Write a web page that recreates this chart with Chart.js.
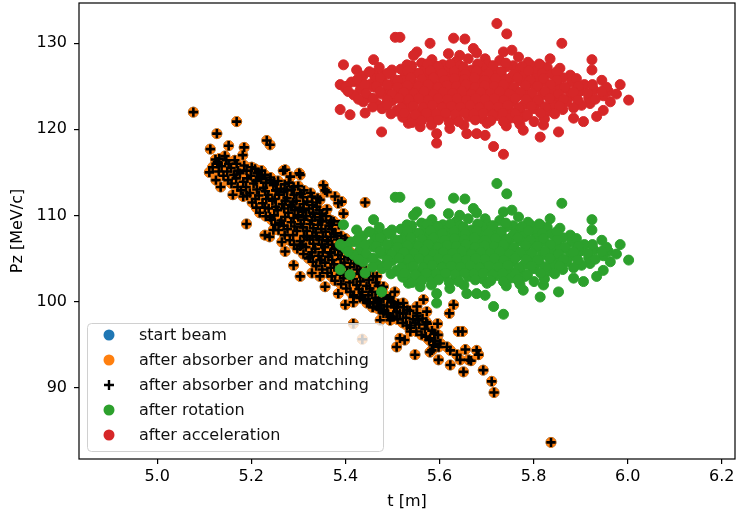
<!DOCTYPE html>
<html>
<head>
<meta charset="utf-8">
<script src="https://cdn.jsdelivr.net/npm/chart.js@4.4.1/dist/chart.umd.min.js"></script>
<style>
  html, body { margin: 0; padding: 0; background: #fff; }
  #wrap { width: 736px; height: 515px; }
</style>
</head>
<body>
<div id="wrap"><canvas id="beamChart" width="736" height="515"></canvas></div>
<script>
// phase-space samples: [t (m), Pz (MeV/c)]
const absorberPts = [
  [5.077,122.0],[5.169,120.9],[5.711,90.7],[5.716,89.4],[5.837,83.6],
  [5.127,119.5],[5.113,117.7],[5.152,118.1],[5.185,117.9],[5.233,118.7],[5.240,118.2],[5.182,117.0],
  [5.132,116.6],[5.147,116.4],[5.128,116.2],[5.111,115.0],[5.125,114.1],[5.135,113.3],[5.161,112.4],
  [5.183,112.2],[5.190,109.0],[5.239,107.5],[5.272,115.3],[5.302,114.9],[5.353,113.5],[5.357,112.9],
  [5.341,112.0],[5.312,112.9],[5.201,115.6],[5.222,115.2],[5.268,115.2],[5.304,114.7],[5.378,112.2],
  [5.392,111.6],[5.396,110.2],[5.375,109.3],[5.442,111.5],[5.361,112.7],[5.385,111.4],[5.400,107.3],
  [5.304,102.9],[5.290,104.2],[5.272,105.8],[5.265,106.9],[5.329,103.3],[5.346,102.9],[5.357,101.7],
  [5.385,100.9],[5.400,99.6],[5.417,100.5],[5.460,99.8],[5.481,99.0],[5.495,98.2],
  [5.229,107.7],[5.240,109.8],[5.247,108.3],[5.261,109.1],
  [5.286,111.0],[5.300,109.8],[5.311,110.6],[5.332,110.2],[5.339,111.0],[5.346,109.5],[5.368,109.1],
  [5.375,107.9],[5.361,107.1],[5.339,107.5],[5.318,107.5],[5.304,106.4],[5.325,105.2],[5.346,104.8],
  [5.368,105.6],[5.382,106.4],[5.219,114.5],[5.240,114.1],[5.283,114.5],[5.276,112.9],[5.254,112.9],
  [5.304,112.6],[5.329,112.2],[5.346,111.8],
  [5.431,105.2],[5.452,103.6],[5.467,102.9],[5.481,101.7],[5.495,100.5],[5.509,99.4],[5.488,98.6],
  [5.467,99.4],[5.446,99.8],[5.431,100.5],
  [5.630,99.6],[5.621,98.6],[5.640,96.5],[5.649,96.5],[5.596,97.4],[5.574,97.4],[5.555,97.8],
  [5.538,97.2],[5.538,96.5],[5.516,95.7],[5.526,95.5],[5.509,94.7],[5.548,93.8],[5.580,95.7],
  [5.587,94.9],[5.584,94.3],[5.598,94.7],[5.580,94.1],[5.616,94.7],[5.623,94.3],[5.598,93.2],
  [5.623,92.6],[5.637,93.8],[5.655,94.4],[5.644,93.2],[5.662,93.2],[5.651,91.8],[5.679,94.3],
  [5.683,93.8],[5.667,93.1],[5.693,92.0],
  [5.481,98.6],[5.502,98.2],[5.474,97.8],[5.495,97.8],[5.467,99.8],[5.481,100.3],[5.502,99.9],
  [5.523,99.8],[5.552,99.4],[5.566,100.2],[5.552,98.6],[5.523,98.6],[5.573,98.8],[5.438,100.3],
  [5.417,99.9],[5.452,99.9],[5.417,97.4],[5.436,95.6],
  // dense core of the band
  [5.118,115.6],[5.124,116.5],
  [5.141,114.6],[5.137,115.7],[5.144,116.9],
  [5.158,113.7],[5.163,114.7],[5.157,115.5],[5.165,116.4],
  [5.178,112.9],[5.183,113.9],[5.176,114.9],[5.185,115.8],
  [5.202,111.5],[5.197,112.6],[5.205,113.7],[5.199,114.6],[5.208,115.4],
  [5.218,110.3],[5.224,111.4],[5.216,112.3],[5.226,113.2],[5.221,114.2],[5.215,115.0],
  [5.243,109.5],[5.237,110.8],[5.245,111.7],[5.236,112.4],[5.247,113.5],[5.241,114.4],
  [5.258,108.3],[5.264,109.4],[5.256,110.6],[5.266,111.3],[5.259,112.4],[5.263,113.1],[5.257,114.0],
  [5.282,107.1],[5.277,108.4],[5.285,109.2],[5.279,110.3],[5.284,111.2],[5.276,112.0],[5.286,113.0],[5.280,113.8],
  [5.298,106.1],[5.304,107.0],[5.297,108.2],[5.305,109.0],[5.299,110.0],[5.303,110.9],[5.296,111.7],[5.306,112.5],[5.300,113.4],
  [5.322,105.0],[5.316,106.3],[5.324,107.2],[5.318,108.2],[5.325,109.0],[5.317,109.9],[5.323,110.8],[5.319,111.6],[5.326,112.6],
  [5.338,104.1],[5.343,105.3],[5.336,106.1],[5.344,107.2],[5.337,108.0],[5.342,108.9],[5.335,109.8],[5.345,110.6],[5.339,111.5],
  [5.362,103.3],[5.357,104.5],[5.364,105.2],[5.356,106.3],[5.363,107.0],[5.358,108.1],[5.365,108.8],[5.359,109.9],[5.361,110.7],
  [5.378,102.4],[5.384,103.6],[5.376,104.3],[5.385,105.4],[5.377,106.1],[5.383,107.2],[5.379,107.9],[5.386,108.9],
  [5.402,101.5],[5.396,102.7],[5.404,103.4],[5.398,104.5],[5.405,105.2],[5.397,106.3],[5.403,107.0],
  [5.418,100.7],[5.424,101.9],[5.417,102.6],[5.425,103.7],[5.419,104.4],[5.423,105.5],
  [5.442,100.2],[5.436,101.1],[5.445,101.8],[5.438,102.9],[5.443,103.6],
  [5.458,99.3],[5.464,100.4],[5.457,101.1],[5.465,102.2],[5.459,102.9],
  [5.482,98.9],[5.476,99.6],[5.484,100.7],[5.478,101.4],
  [5.498,98.2],[5.504,99.3],[5.497,100.0],[5.505,101.1],
  [5.522,97.5],[5.516,98.6],[5.524,99.3],
  [5.538,96.9],[5.544,97.9],[5.537,98.9],
  [5.562,96.1],[5.557,97.3],[5.564,98.0],
  [5.578,95.5],[5.584,96.6],
  [5.602,95.1],[5.597,96.1],
  [5.131,115.1],[5.129,116.0],
  [5.151,114.1],[5.149,115.1],[5.152,116.0],
  [5.171,113.3],[5.168,114.3],[5.172,115.2],[5.169,116.0],
  [5.191,112.3],[5.189,113.3],[5.192,114.3],[5.190,115.2],
  [5.211,110.9],[5.209,111.9],[5.212,113.0],[5.210,114.0],[5.212,114.9],
  [5.231,109.9],[5.229,110.9],[5.232,111.9],[5.230,112.8],[5.232,113.8],[5.229,114.7],
  [5.251,108.9],[5.249,110.0],[5.252,111.0],[5.250,111.9],[5.252,112.9],[5.249,113.8],
  [5.271,107.7],[5.269,108.8],[5.272,109.8],[5.270,110.8],[5.272,111.7],[5.269,112.7],[5.271,113.6],
  [5.291,106.6],[5.289,107.7],[5.292,108.7],[5.290,109.7],[5.292,110.6],[5.289,111.5],[5.291,112.4],[5.290,113.3],
  [5.311,105.5],[5.309,106.6],[5.312,107.6],[5.310,108.6],[5.312,109.5],[5.309,110.4],[5.311,111.3],[5.310,112.1],
  [5.331,104.6],[5.329,105.7],[5.332,106.7],[5.330,107.6],[5.332,108.5],[5.329,109.4],[5.331,110.3],[5.330,111.2],
  [5.351,103.7],[5.349,104.8],[5.352,105.7],[5.350,106.6],[5.352,107.5],[5.349,108.4],[5.351,109.3],[5.350,110.2],
  [5.371,102.9],[5.369,103.9],[5.372,104.8],[5.370,105.7],[5.372,106.6],[5.369,107.5],[5.371,108.4],[5.370,109.4],
  [5.391,102.0],[5.389,103.1],[5.392,104.0],[5.390,104.9],[5.392,105.8],[5.389,106.7],[5.391,107.6],
  [5.411,101.1],[5.409,102.2],[5.412,103.0],[5.410,104.0],[5.412,104.9],[5.409,105.8],
  [5.431,100.4],[5.429,101.4],[5.432,102.3],[5.430,103.2],[5.432,104.1],
  [5.451,99.8],[5.449,100.7],[5.452,101.5],[5.450,102.5],
  [5.471,99.1],[5.469,100.0],[5.472,100.9],[5.470,101.8],
  [5.491,98.5],[5.489,99.4],[5.492,100.3],
  [5.511,97.9],[5.509,98.8],[5.512,99.7],
  [5.531,97.2],[5.529,98.1],[5.532,99.0],
  [5.551,96.5],[5.549,97.5],[5.552,98.3],
  [5.571,95.9],[5.569,96.8],[5.572,97.6],
  [5.591,95.4],[5.589,96.3]
];

const rotationPts = [
  [5.722,113.7],[5.743,112.5],[5.506,112.1],[5.516,112.1],[5.860,111.4],[5.630,112.0],[5.654,111.9],
  [5.672,110.8],[5.679,110.3],[5.580,111.4],[5.552,110.4],[5.545,110.0],[5.619,110.2],[5.643,110.0],
  [5.697,109.6],[5.736,110.4],[5.754,110.6],[5.768,109.8],[5.460,109.5],[5.396,108.9],[5.424,108.3],
  [5.924,109.5],[5.924,108.3],[5.945,107.1],[5.984,106.6],[6.002,104.8],[5.856,108.5],[5.878,107.7],
  [5.892,106.2],[5.835,109.6],[5.793,108.9],[5.814,108.9],[5.959,105.8],[5.963,104.6],[5.948,103.6],
  [5.934,102.9],[5.906,102.3],[5.920,104.4],[5.885,102.7],[5.853,101.1],[5.814,100.5],[5.778,101.3],
  [5.821,101.9],[5.715,99.4],[5.736,98.5],[5.697,100.7],[5.679,100.9],[5.658,100.9],[5.622,101.5],
  [5.594,100.9],[5.559,101.7],[5.534,102.1],[5.594,99.8],[5.477,101.1],[5.442,103.3],[5.410,103.1],
  [5.389,103.7],[5.389,106.6],[5.400,106.2],[5.424,106.9],[5.460,107.9],[5.481,107.7],[5.499,108.3],
  [5.516,106.0],[5.545,106.4],[5.573,106.9],[5.531,102.9],[5.509,103.6],[5.488,104.4],[5.446,105.2],
  [5.562,109.1],[5.584,109.5],[5.607,108.9],[5.636,109.3],[5.661,109.6],[5.702,109.0],[5.728,109.4],[5.757,108.8],[5.788,109.2],
  [5.472,108.6],[5.518,108.4],[5.541,108.8],[5.568,108.3],[5.593,108.7],[5.618,108.4],[5.644,108.8],
  [5.668,108.3],[5.691,108.6],[5.718,108.2],[5.744,108.7],[5.771,108.4],[5.803,108.1],[5.829,108.6],
  [5.437,107.6],[5.463,107.3],[5.497,107.8],[5.526,107.5],[5.551,107.9],[5.574,107.4],[5.598,107.8],
  [5.621,107.5],[5.642,107.9],[5.663,107.4],[5.684,107.8],[5.709,107.5],[5.731,107.9],[5.752,107.4],
  [5.781,107.7],[5.804,107.3],[5.838,107.8],[5.862,107.4],
  [5.413,106.9],[5.452,106.6],[5.478,107.0],[5.501,106.7],[5.523,107.1],[5.544,106.8],[5.566,107.0],
  [5.587,106.6],[5.606,107.1],[5.626,106.7],[5.647,107.0],[5.666,106.6],[5.686,107.1],[5.707,106.8],
  [5.724,107.0],[5.746,106.6],[5.772,107.0],[5.793,106.7],[5.822,106.9],[5.851,106.5],[5.881,106.9],[5.908,106.6],
  [5.432,106.0],[5.461,106.3],[5.488,105.9],[5.514,106.2],[5.536,105.8],[5.556,106.2],[5.577,105.9],
  [5.596,106.3],[5.616,105.9],[5.634,106.2],[5.656,105.8],[5.676,106.3],[5.694,105.9],[5.716,106.2],
  [5.736,105.8],[5.758,106.2],[5.782,105.9],[5.808,106.3],[5.838,105.8],[5.869,106.1],[5.898,105.8],[5.928,106.0],
  [5.418,105.4],[5.449,105.1],[5.476,105.5],[5.502,105.2],[5.521,105.5],[5.541,105.1],[5.562,105.4],
  [5.581,105.0],[5.602,105.5],[5.621,105.2],[5.642,105.4],[5.661,105.0],[5.682,105.5],[5.701,105.1],
  [5.722,105.4],[5.741,105.0],[5.766,105.3],[5.791,105.0],[5.818,105.4],[5.849,105.1],[5.879,105.3],
  [5.917,105.0],[5.948,105.3],
  [5.438,104.6],[5.468,104.3],[5.499,104.7],[5.528,104.4],[5.549,104.8],[5.571,104.3],[5.592,104.6],
  [5.611,104.2],[5.632,104.7],[5.651,104.4],[5.672,104.6],[5.691,104.2],[5.712,104.7],[5.731,104.4],
  [5.756,104.6],[5.779,104.2],[5.812,104.5],[5.842,104.3],[5.871,104.6],[5.902,104.2],
  [5.478,103.8],[5.511,103.5],[5.538,103.9],[5.561,103.5],[5.582,103.8],[5.603,103.4],[5.622,103.7],
  [5.643,103.5],[5.662,103.9],[5.683,103.5],[5.702,103.8],[5.722,103.4],[5.747,103.7],[5.772,103.4],
  [5.801,103.8],[5.831,103.5],[5.862,103.7],
  [5.522,102.8],[5.553,103.0],[5.581,102.7],[5.612,103.0],[5.636,102.6],[5.661,102.9],[5.692,102.6],
  [5.721,103.0],[5.751,102.7],[5.782,102.9],[5.823,102.6],
  [5.542,102.2],[5.583,101.9],[5.621,102.2],[5.652,101.9],[5.701,102.1],[5.742,101.8],[5.771,102.0],
  [5.531,108.9],[5.574,109.0],[5.597,108.7],[5.623,109.0],[5.651,108.6],[5.681,109.0],[5.714,108.8],[5.741,109.1],[5.776,108.7],[5.812,109.0],
  [5.451,108.1],[5.489,107.9],[5.532,108.2],[5.556,107.9],[5.581,108.2],[5.606,107.9],[5.631,108.1],[5.655,107.8],
  [5.679,108.2],[5.704,107.9],[5.731,108.1],[5.758,107.8],[5.789,108.2],[5.818,107.9],[5.849,108.1],
  [5.426,107.2],[5.474,107.4],[5.511,107.1],[5.539,107.4],[5.563,107.2],[5.587,107.4],[5.611,107.1],[5.632,107.3],
  [5.653,107.2],[5.674,107.4],[5.696,107.1],[5.719,107.3],[5.742,107.2],[5.766,107.4],[5.793,107.1],[5.821,107.3],
  [5.849,107.1],[5.891,107.3],
  [5.402,106.4],[5.441,106.6],[5.466,106.4],[5.489,106.6],[5.511,106.3],[5.532,106.5],[5.555,106.4],[5.576,106.6],
  [5.597,106.3],[5.616,106.5],[5.636,106.4],[5.656,106.6],[5.676,106.3],[5.696,106.5],[5.716,106.4],[5.736,106.6],
  [5.758,106.3],[5.783,106.5],[5.808,106.4],[5.836,106.6],[5.866,106.3],[5.895,106.4],[5.925,106.6],[5.955,106.3],
  [5.406,105.8],[5.444,105.6],[5.474,105.8],[5.499,105.5],[5.524,105.7],[5.546,105.6],[5.567,105.8],[5.588,105.5],
  [5.608,105.7],[5.628,105.6],[5.648,105.8],[5.668,105.5],[5.688,105.7],[5.708,105.6],[5.728,105.8],[5.749,105.5],
  [5.772,105.7],[5.797,105.6],[5.824,105.8],[5.853,105.5],[5.885,105.7],[5.915,105.6],[5.945,105.8],[5.976,105.5],
  [5.428,104.9],[5.459,105.0],[5.489,104.8],[5.514,105.0],[5.535,104.9],[5.556,105.0],[5.576,104.8],[5.597,105.0],
  [5.617,104.9],[5.637,105.0],[5.657,104.8],[5.677,105.0],[5.697,104.9],[5.717,105.0],[5.737,104.8],[5.761,105.0],
  [5.784,104.9],[5.809,104.8],[5.834,105.0],[5.864,104.9],[5.894,104.8],[5.931,104.9],
  [5.458,104.0],[5.489,104.2],[5.519,103.9],[5.544,104.1],[5.565,104.0],[5.585,104.2],[5.605,103.9],[5.625,104.1],
  [5.645,104.0],[5.665,104.2],[5.685,103.9],[5.705,104.1],[5.725,104.0],[5.745,104.2],[5.768,103.9],[5.795,104.1],
  [5.825,104.0],[5.855,104.1],[5.885,103.9],
  [5.497,103.2],[5.525,103.3],[5.549,103.1],[5.572,103.3],[5.593,103.2],[5.613,103.3],[5.633,103.1],[5.653,103.3],
  [5.673,103.2],[5.693,103.3],[5.713,103.1],[5.735,103.3],[5.761,103.2],[5.787,103.1],[5.815,103.3],[5.845,103.2],
  [5.562,102.4],[5.598,102.5],[5.641,102.3],[5.676,102.5],[5.709,102.4],[5.736,102.3],[5.766,102.5],[5.801,102.3]
];

const accelerationPts = [
  [5.722,132.3],[5.743,131.1],[5.506,130.7],[5.516,130.7],[5.860,130.0],[5.630,130.6],[5.654,130.5],
  [5.672,129.4],[5.679,128.9],[5.580,130.0],[5.552,129.0],[5.545,128.6],[5.619,128.8],[5.643,128.6],
  [5.697,128.2],[5.736,129.0],[5.754,129.2],[5.768,128.4],[5.460,128.1],[5.396,127.5],[5.424,126.9],
  [5.924,128.1],[5.924,126.9],[5.945,125.7],[5.984,125.2],[6.002,123.4],[5.856,127.1],[5.878,126.3],
  [5.892,124.8],[5.835,128.2],[5.793,127.5],[5.814,127.5],[5.959,124.4],[5.963,123.2],[5.948,122.2],
  [5.934,121.5],[5.906,120.9],[5.920,123.0],[5.885,121.3],[5.853,119.7],[5.814,119.1],[5.778,119.9],
  [5.821,120.5],[5.715,118.0],[5.736,117.1],[5.697,119.3],[5.679,119.5],[5.658,119.5],[5.622,120.1],
  [5.594,119.5],[5.559,120.3],[5.534,120.7],[5.594,118.4],[5.477,119.7],[5.442,121.9],[5.410,121.7],
  [5.389,122.3],[5.389,125.2],[5.400,124.8],[5.424,125.5],[5.460,126.5],[5.481,126.3],[5.499,126.9],
  [5.516,124.6],[5.545,125.0],[5.573,125.5],[5.531,121.5],[5.509,122.2],[5.488,123.0],[5.446,123.8],
  [5.562,127.7],[5.584,128.1],[5.607,127.5],[5.636,127.9],[5.661,128.2],[5.702,127.6],[5.728,128.0],[5.757,127.4],[5.788,127.8],
  [5.472,127.2],[5.518,127.0],[5.541,127.4],[5.568,126.9],[5.593,127.3],[5.618,127.0],[5.644,127.4],
  [5.668,126.9],[5.691,127.2],[5.718,126.8],[5.744,127.3],[5.771,127.0],[5.803,126.7],[5.829,127.2],
  [5.437,126.2],[5.463,125.9],[5.497,126.4],[5.526,126.1],[5.551,126.5],[5.574,126.0],[5.598,126.4],
  [5.621,126.1],[5.642,126.5],[5.663,126.0],[5.684,126.4],[5.709,126.1],[5.731,126.5],[5.752,126.0],
  [5.781,126.3],[5.804,125.9],[5.838,126.4],[5.862,126.0],
  [5.413,125.5],[5.452,125.2],[5.478,125.6],[5.501,125.3],[5.523,125.7],[5.544,125.4],[5.566,125.6],
  [5.587,125.2],[5.606,125.7],[5.626,125.3],[5.647,125.6],[5.666,125.2],[5.686,125.7],[5.707,125.4],
  [5.724,125.6],[5.746,125.2],[5.772,125.6],[5.793,125.3],[5.822,125.5],[5.851,125.1],[5.881,125.5],[5.908,125.2],
  [5.432,124.6],[5.461,124.9],[5.488,124.5],[5.514,124.8],[5.536,124.4],[5.556,124.8],[5.577,124.5],
  [5.596,124.9],[5.616,124.5],[5.634,124.8],[5.656,124.4],[5.676,124.9],[5.694,124.5],[5.716,124.8],
  [5.736,124.4],[5.758,124.8],[5.782,124.5],[5.808,124.9],[5.838,124.4],[5.869,124.7],[5.898,124.4],[5.928,124.6],
  [5.418,124.0],[5.449,123.7],[5.476,124.1],[5.502,123.8],[5.521,124.1],[5.541,123.7],[5.562,124.0],
  [5.581,123.6],[5.602,124.1],[5.621,123.8],[5.642,124.0],[5.661,123.6],[5.682,124.1],[5.701,123.7],
  [5.722,124.0],[5.741,123.6],[5.766,123.9],[5.791,123.6],[5.818,124.0],[5.849,123.7],[5.879,123.9],
  [5.917,123.6],[5.948,123.9],
  [5.438,123.2],[5.468,122.9],[5.499,123.3],[5.528,123.0],[5.549,123.4],[5.571,122.9],[5.592,123.2],
  [5.611,122.8],[5.632,123.3],[5.651,123.0],[5.672,123.2],[5.691,122.8],[5.712,123.3],[5.731,123.0],
  [5.756,123.2],[5.779,122.8],[5.812,123.1],[5.842,122.9],[5.871,123.2],[5.902,122.8],
  [5.478,122.4],[5.511,122.1],[5.538,122.5],[5.561,122.1],[5.582,122.4],[5.603,122.0],[5.622,122.3],
  [5.643,122.1],[5.662,122.5],[5.683,122.1],[5.702,122.4],[5.722,122.0],[5.747,122.3],[5.772,122.0],
  [5.801,122.4],[5.831,122.1],[5.862,122.3],
  [5.522,121.4],[5.553,121.6],[5.581,121.3],[5.612,121.6],[5.636,121.2],[5.661,121.5],[5.692,121.2],
  [5.721,121.6],[5.751,121.3],[5.782,121.5],[5.823,121.2],
  [5.542,120.8],[5.583,120.5],[5.621,120.8],[5.652,120.5],[5.701,120.7],[5.742,120.4],[5.771,120.6],
  [5.531,127.5],[5.574,127.6],[5.597,127.3],[5.623,127.6],[5.651,127.2],[5.681,127.6],[5.714,127.4],[5.741,127.7],[5.776,127.3],[5.812,127.6],
  [5.451,126.7],[5.489,126.5],[5.532,126.8],[5.556,126.5],[5.581,126.8],[5.606,126.5],[5.631,126.7],[5.655,126.4],
  [5.679,126.8],[5.704,126.5],[5.731,126.7],[5.758,126.4],[5.789,126.8],[5.818,126.5],[5.849,126.7],
  [5.426,125.8],[5.474,126.0],[5.511,125.7],[5.539,126.0],[5.563,125.8],[5.587,126.0],[5.611,125.7],[5.632,125.9],
  [5.653,125.8],[5.674,126.0],[5.696,125.7],[5.719,125.9],[5.742,125.8],[5.766,126.0],[5.793,125.7],[5.821,125.9],
  [5.849,125.7],[5.891,125.9],
  [5.402,125.0],[5.441,125.2],[5.466,125.0],[5.489,125.2],[5.511,124.9],[5.532,125.1],[5.555,125.0],[5.576,125.2],
  [5.597,124.9],[5.616,125.1],[5.636,125.0],[5.656,125.2],[5.676,124.9],[5.696,125.1],[5.716,125.0],[5.736,125.2],
  [5.758,124.9],[5.783,125.1],[5.808,125.0],[5.836,125.2],[5.866,124.9],[5.895,125.0],[5.925,125.2],[5.955,124.9],
  [5.406,124.4],[5.444,124.2],[5.474,124.4],[5.499,124.1],[5.524,124.3],[5.546,124.2],[5.567,124.4],[5.588,124.1],
  [5.608,124.3],[5.628,124.2],[5.648,124.4],[5.668,124.1],[5.688,124.3],[5.708,124.2],[5.728,124.4],[5.749,124.1],
  [5.772,124.3],[5.797,124.2],[5.824,124.4],[5.853,124.1],[5.885,124.3],[5.915,124.2],[5.945,124.4],[5.976,124.1],
  [5.428,123.5],[5.459,123.6],[5.489,123.4],[5.514,123.6],[5.535,123.5],[5.556,123.6],[5.576,123.4],[5.597,123.6],
  [5.617,123.5],[5.637,123.6],[5.657,123.4],[5.677,123.6],[5.697,123.5],[5.717,123.6],[5.737,123.4],[5.761,123.6],
  [5.784,123.5],[5.809,123.4],[5.834,123.6],[5.864,123.5],[5.894,123.4],[5.931,123.5],
  [5.458,122.6],[5.489,122.8],[5.519,122.5],[5.544,122.7],[5.565,122.6],[5.585,122.8],[5.605,122.5],[5.625,122.7],
  [5.645,122.6],[5.665,122.8],[5.685,122.5],[5.705,122.7],[5.725,122.6],[5.745,122.8],[5.768,122.5],[5.795,122.7],
  [5.825,122.6],[5.855,122.7],[5.885,122.5],
  [5.497,121.8],[5.525,121.9],[5.549,121.7],[5.572,121.9],[5.593,121.8],[5.613,121.9],[5.633,121.7],[5.653,121.9],
  [5.673,121.8],[5.693,121.9],[5.713,121.7],[5.735,121.9],[5.761,121.8],[5.787,121.7],[5.815,121.9],[5.845,121.8],
  [5.562,121.0],[5.598,121.1],[5.641,120.9],[5.676,121.1],[5.709,121.0],[5.736,120.9],[5.766,121.1],[5.801,120.9]
];

// start beam sits exactly underneath the absorber output
const startPts = absorberPts;

const seriesNames = ["start beam", "after absorber and matching", "after absorber and matching",
                     "after rotation", "after acceleration"];
const xTicks = [5.0, 5.2, 5.4, 5.6, 5.8, 6.0, 6.2];
const yTicks = [90, 100, 110, 120, 130];

const FONT = "DejaVu Sans";
const toXY = pts => pts.map(p => ({ x: p[0], y: p[1] }));

function dots(label, pts, color, order) {
  return {
    label, data: toXY(pts), order,
    pointStyle: "circle", pointRadius: 5, pointHoverRadius: 5,
    backgroundColor: color, borderColor: color, borderWidth: 1
  };
}

// box frame around the plot area (drawn over the data like mpl spines)
const framePlugin = {
  id: "frame",
  afterDatasetsDraw(chart) {
    const { ctx, chartArea: a } = chart;
    ctx.save();
    ctx.strokeStyle = "#000";
    ctx.lineWidth = 1.2;
    ctx.strokeRect(a.left, a.top, a.right - a.left, a.bottom - a.top);
    ctx.restore();
  }
};

// legend box in the lower left corner, semi transparent like matplotlib
const legendPlugin = {
  id: "boxLegend",
  afterDraw(chart) {
    const { ctx } = chart;
    const bx = 87.5, by = 323.5, bw = 296, bh = 128, r = 4;
    ctx.save();
    ctx.beginPath();
    ctx.roundRect(bx, by, bw, bh, r);
    ctx.fillStyle = "rgba(255,255,255,0.8)";
    ctx.fill();
    ctx.strokeStyle = "#d0d0d0";
    ctx.lineWidth = 1;
    ctx.stroke();

    ctx.font = "16px '" + FONT + "'";
    ctx.textBaseline = "middle";
    ctx.textAlign = "left";
    chart.data.datasets.forEach((ds, i) => {
      const y = 335 + i * 25;
      const mx = 109;
      if (ds.pointStyle === "cross") {
        ctx.strokeStyle = ds.borderColor;
        ctx.lineWidth = 2.4;
        ctx.beginPath();
        ctx.moveTo(mx - 5, y); ctx.lineTo(mx + 5, y);
        ctx.moveTo(mx, y - 5); ctx.lineTo(mx, y + 5);
        ctx.stroke();
      } else {
        ctx.fillStyle = ds.backgroundColor;
        ctx.beginPath();
        ctx.arc(mx, y, 5.5, 0, Math.PI * 2);
        ctx.fill();
      }
      ctx.fillStyle = "#111";
      ctx.fillText(ds.label, 139, y + 1);
    });
    ctx.restore();
  }
};

const ctx = document.getElementById("beamChart").getContext("2d");
new Chart(ctx, {
  type: "scatter",
  data: {
    datasets: [
      dots(seriesNames[0], startPts, "#1f77b4", 5),
      dots(seriesNames[1], absorberPts, "#ff7f0e", 4),
      {
        label: seriesNames[2], data: toXY(absorberPts), order: 3,
        pointStyle: "cross", pointRadius: 4.7, pointHoverRadius: 4.7,
        backgroundColor: "#000", borderColor: "#000", borderWidth: 2.6
      },
      dots(seriesNames[3], rotationPts, "#2ca02c", 2),
      dots(seriesNames[4], accelerationPts, "#d62728", 1)
    ]
  },
  options: {
    responsive: false,
    animation: false,
    events: [],
    layout: { autoPadding: false, padding: { top: 3, right: 1, left: 0, bottom: 0 } },
    plugins: { legend: { display: false }, tooltip: { enabled: false } },
    scales: {
      x: {
        type: "linear", min: 4.834, max: 6.228,
        afterFit: s => { s.height = 56; s.paddingLeft = 0; s.paddingRight = 0; },
        afterBuildTicks: s => { s.ticks = xTicks.map(v => ({ value: v })); },
        ticks: { color: "#000", font: { family: FONT, size: 16 }, padding: 3,
                 callback: v => v.toFixed(1) },
        grid: { drawOnChartArea: false, drawTicks: true, tickLength: 5, color: "#000", lineWidth: 1.2 },
        border: { display: false },
        title: { display: true, text: "t [m]", color: "#000",
                 font: { family: FONT, size: 16 }, padding: { top: 0, bottom: 4 } }
      },
      y: {
        type: "linear", min: 81.67, max: 134.69,
        afterFit: s => { s.width = 79; s.paddingTop = 0; s.paddingBottom = 0; },
        afterBuildTicks: s => { s.ticks = yTicks.map(v => ({ value: v })); },
        ticks: { color: "#000", font: { family: FONT, size: 16 }, padding: 7,
                 callback: v => String(v) },
        grid: { drawOnChartArea: false, drawTicks: true, tickLength: 5, color: "#000", lineWidth: 1.2 },
        border: { display: false },
        title: { display: true, text: "Pz [MeV/c]", color: "#000",
                 font: { family: FONT, size: 16 }, padding: { top: 8, bottom: 0 } }
      }
    }
  },
  plugins: [framePlugin, legendPlugin]
});
</script>
</body>
</html>
